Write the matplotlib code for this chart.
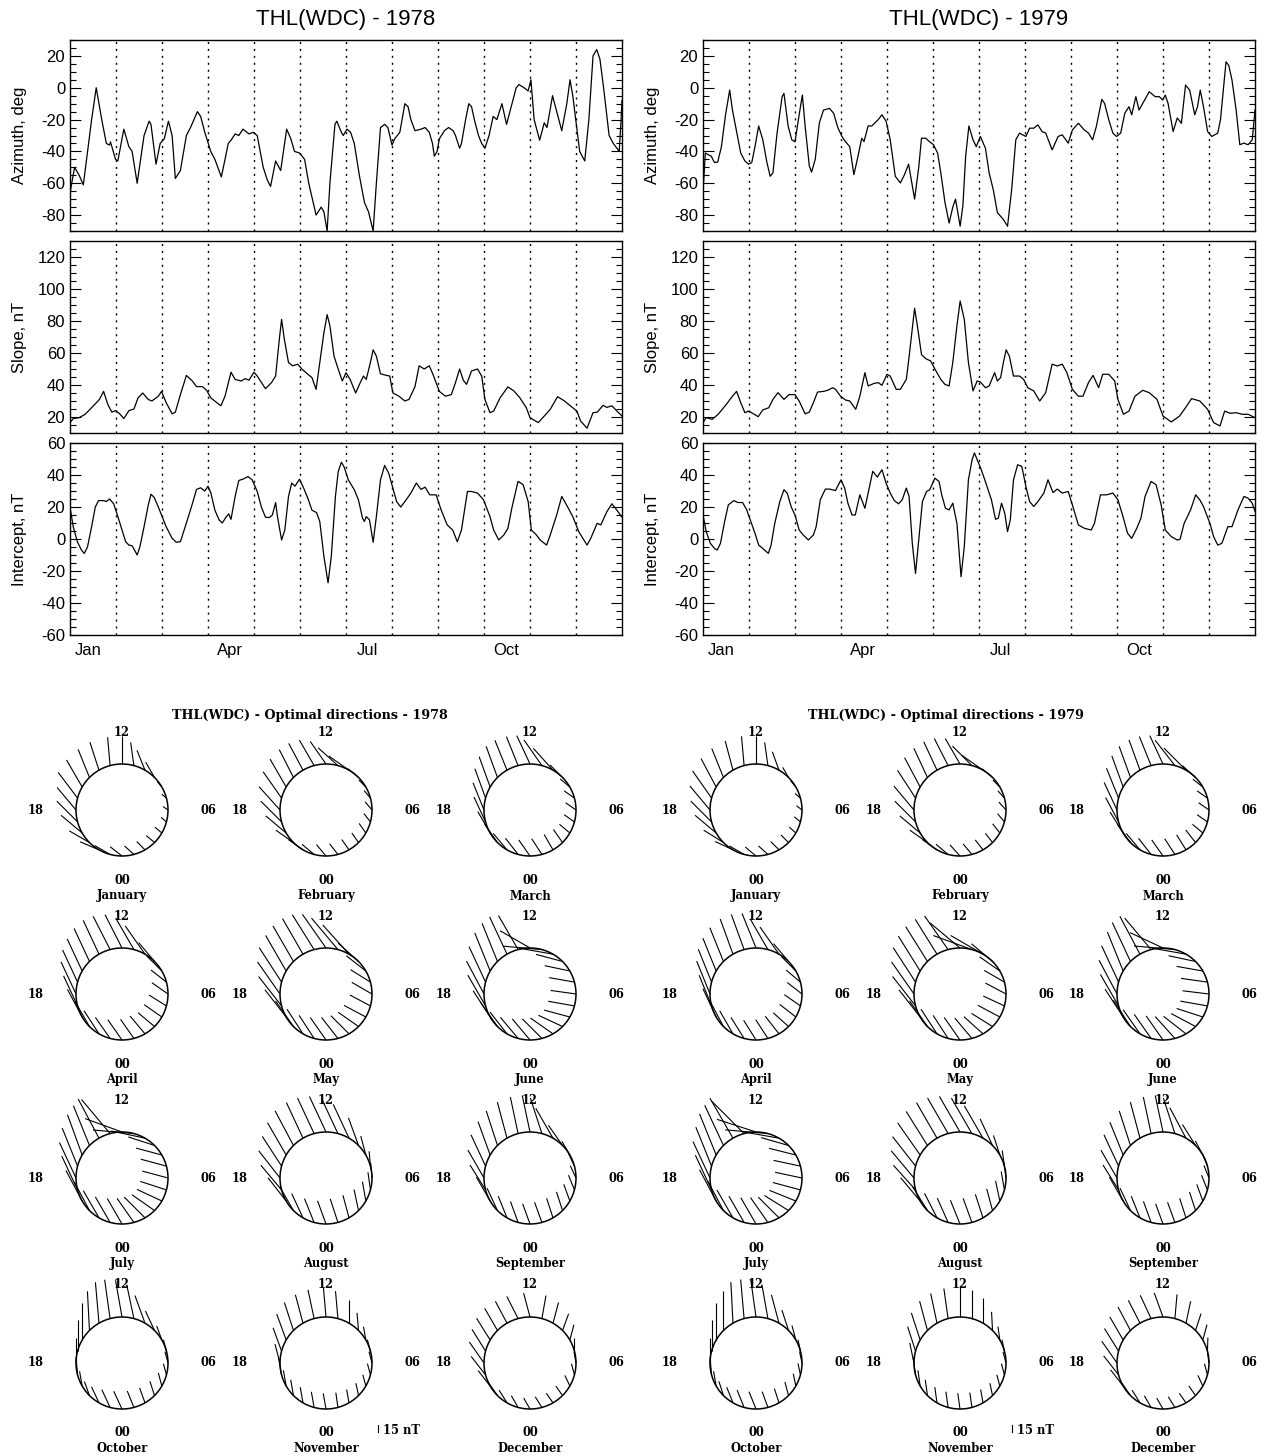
import numpy as np
import matplotlib.pyplot as plt
from matplotlib.patches import Circle
from matplotlib.collections import LineCollection
from matplotlib.ticker import MultipleLocator

plt.rcParams['axes.unicode_minus'] = False

# ---- daily series, (month position, value) ----
az78 = [(0.00,-66),(0.10,-50),(0.20,-55),(0.29,-61),(0.47,-20),(0.57,0),(0.69,-20),(0.79,-35),(0.86,-36),(0.88,-34),
        (0.99,-45),(1.04,-46),(1.17,-26),(1.28,-37),(1.35,-40),(1.46,-60),(1.61,-30),(1.72,-21),(1.76,-23),(1.87,-48),
        (1.96,-35),(2.05,-32),(2.14,-21),(2.22,-30),(2.29,-57),(2.40,-52),(2.53,-30),(2.62,-25),(2.77,-15),(2.84,-18),
        (2.93,-28),(3.06,-40),(3.15,-45),(3.24,-52),(3.29,-56),(3.37,-45),(3.44,-35),(3.50,-33),(3.59,-29),(3.67,-30),
        (3.76,-26),(3.89,-29),(3.98,-28),(4.07,-30),(4.20,-50),(4.29,-58),(4.36,-62),(4.47,-46),(4.58,-52),(4.71,-26),
        (4.80,-32),(4.88,-40),(4.99,-41),(5.10,-45),(5.19,-60),(5.35,-80),(5.46,-75),(5.52,-78),(5.59,-90),(5.65,-60),
        (5.76,-23),(5.80,-21),(5.90,-28),(5.94,-30),(6.02,-26),(6.10,-28),(6.18,-35),(6.29,-55),(6.40,-72),(6.49,-78),
        (6.59,-90),(6.66,-60),(6.75,-25),(6.84,-23),(6.91,-25),(7.00,-36),(7.06,-32),(7.17,-28),(7.28,-10),(7.35,-12),
        (7.41,-20),(7.50,-27),(7.63,-26),(7.72,-25),(7.81,-28),(7.88,-35),(7.92,-43),(7.98,-40),(8.03,-32),(8.14,-27),
        (8.23,-25),(8.33,-27),(8.38,-30),(8.47,-38),(8.51,-35),(8.60,-20),(8.67,-10),(8.73,-12),(8.79,-20),(8.88,-30),
        (8.95,-35),(9.02,-38),(9.11,-30),(9.20,-18),(9.28,-20),(9.39,-10),(9.49,-23),(9.61,-10),(9.70,0),(9.76,2),
        (9.87,0),(9.96,-2),(10.02,5),(10.09,-20),(10.21,-33),(10.31,-22),(10.37,-25),(10.49,-5),(10.58,-15),(10.69,-27),
        (10.80,-10),(10.87,5),(10.93,-5),(11.08,-40),(11.19,-46),(11.28,-20),(11.37,20),(11.45,24),(11.52,18),(11.60,0),
        (11.72,-30),(11.81,-35),(11.89,-38),(11.94,-40),(11.98,-20),(12.00,-8)]

sl78 = [(0.00,16.5),(0.07,19),(0.20,19.6),(0.33,21.7),(0.51,27),(0.64,31),(0.73,36),(0.82,28),(0.91,23),(0.99,24),
        (1.08,22),(1.17,19),(1.28,24),(1.39,25),(1.48,32),(1.58,35),(1.70,31),(1.78,30),(1.92,33),(1.99,36),
        (2.09,29),(2.22,22),(2.29,23),(2.40,34),(2.53,46),(2.66,42.5),(2.75,39),(2.88,39),(2.97,36.7),(3.06,32),
        (3.19,29),(3.28,27),(3.37,33),(3.50,48),(3.59,43.5),(3.72,42.5),(3.81,44),(3.89,43),(4.00,48),(4.07,45.6),
        (4.25,37.7),(4.38,41.5),(4.47,45.6),(4.55,68.5),(4.60,81),(4.66,68.5),(4.75,54),(4.84,52),(4.95,53),(5.04,50),
        (5.13,47.7),(5.26,44.6),(5.35,37.3),(5.43,54),(5.52,72.7),(5.59,84),(5.65,77),(5.74,58),(5.83,50),(5.92,42.5),
        (6.00,47.7),(6.09,43.5),(6.21,35),(6.31,41.5),(6.38,45.6),(6.44,43.5),(6.53,54),(6.59,62),(6.66,58),(6.75,47),
        (6.88,46),(6.95,45.6),(7.02,35),(7.15,33),(7.28,30),(7.37,31),(7.50,39),(7.59,52),(7.70,50),(7.81,52),
        (7.89,46.7),(8.03,36),(8.16,33),(8.29,34),(8.38,41.5),(8.47,50),(8.55,43),(8.62,40.4),(8.73,48.8),(8.86,50),
        (8.95,45.6),(9.02,31),(9.13,22.7),(9.21,23.7),(9.35,32),(9.52,38.8),(9.65,36.3),(9.78,32),(9.92,25.8),(10.00,19.6),
        (10.18,16.5),(10.31,20.6),(10.44,24.8),(10.60,32.7),(10.75,30),(10.88,26.9),(11.02,23.7),(11.10,17.5),(11.24,13),
        (11.37,22.7),(11.46,23),(11.59,27.3),(11.67,26),(11.78,27),(11.89,23.7),(12.00,20.6)]

ic78 = [(0.00,20),(0.07,7.7),(0.16,-1.7),(0.25,-7),(0.31,-9),(0.38,-5),(0.47,7.7),(0.55,20),(0.62,24),(0.73,24),
        (0.79,23.4),(0.86,25),(0.95,22),(1.04,14),(1.13,5.6),(1.21,-1.7),(1.28,-3.8),(1.35,-4.2),(1.46,-10),(1.52,-4.8),
        (1.61,7.7),(1.70,21),(1.76,28),(1.83,26),(1.92,20),(1.99,15),(2.09,7.7),(2.22,0.4),(2.31,-2),(2.40,-1.7),
        (2.53,10),(2.66,22),(2.75,31),(2.84,32),(2.93,30),(3.00,33),(3.06,29),(3.15,18),(3.24,12),(3.31,10),
        (3.39,13.6),(3.45,15.7),(3.50,12.3),(3.59,26.6),(3.67,36.6),(3.76,37.4),(3.87,39),(3.96,37),(4.07,29.7),(4.16,20),
        (4.25,13.6),(4.33,13.4),(4.40,15),(4.47,22.8),(4.51,14),(4.60,-0.6),(4.67,5.6),(4.75,26.6),(4.82,35),(4.89,33),
        (4.99,37.4),(5.08,31.8),(5.17,25.5),(5.26,18),(5.36,16.5),(5.43,10.9),(5.52,-11),(5.61,-27.4),(5.68,-11),(5.77,26.6),
        (5.83,42),(5.90,48),(5.96,45),(6.05,37),(6.18,30.8),(6.27,24.5),(6.36,13),(6.40,10.9),(6.44,14),(6.51,12),
        (6.59,-2),(6.66,14),(6.75,37),(6.84,46),(6.93,41),(7.02,31.8),(7.10,23.4),(7.19,20),(7.28,23.4),(7.41,28.7),
        (7.53,35),(7.63,31),(7.72,32.4),(7.82,27.6),(7.96,27.6),(8.07,18),(8.20,8.8),(8.32,5.6),(8.42,-1.7),(8.51,5.6),
        (8.64,29.7),(8.73,29.7),(8.86,28.7),(8.99,24.5),(9.13,14),(9.21,5.6),(9.32,-0.6),(9.43,2.5),(9.52,6.7),(9.61,20),
        (9.74,36),(9.85,34),(9.96,23.4),(10.03,5.6),(10.14,2.5),(10.22,-0.6),(10.36,-3.8),(10.44,2.5),(10.58,15),(10.69,26.6),
        (10.80,21),(10.93,14),(11.06,4.6),(11.24,-3.8),(11.32,0.4),(11.46,9.8),(11.54,8.8),(11.67,17),(11.78,22),(11.89,18),
        (12.00,13.6)]

az79 = [(0.00,-66),(0.05,-41),(0.11,-42),(0.18,-43),(0.25,-47),(0.32,-46.7),(0.40,-37),(0.49,-17),(0.58,-1.5),(0.64,-14),
        (0.73,-27.5),(0.82,-41),(0.91,-46),(0.99,-48),(1.06,-47),(1.13,-37),(1.21,-24),(1.30,-32.7),(1.39,-47),(1.46,-55.6),
        (1.52,-53.5),(1.61,-28.5),(1.72,-5.6),(1.76,-3.5),(1.85,-24),(1.93,-32.7),(2.00,-34),(2.09,-17),(2.16,-4.6),(2.22,-24),
        (2.31,-49),(2.36,-53),(2.44,-45),(2.53,-22),(2.62,-14),(2.75,-13),(2.84,-16),(2.93,-25),(3.02,-30.6),(3.10,-34),
        (3.19,-37),(3.28,-54.6),(3.37,-43),(3.45,-31.7),(3.50,-33.8),(3.59,-24),(3.67,-24),(3.81,-20),(3.89,-17),(3.98,-21),
        (4.07,-32.7),(4.18,-55.6),(4.29,-59.8),(4.38,-54.6),(4.47,-48),(4.54,-59.8),(4.60,-70),(4.69,-50),(4.75,-31.7),(4.84,-31.7),
        (4.92,-33.8),(5.01,-35.8),(5.10,-41),(5.17,-53.5),(5.26,-72),(5.35,-85),(5.43,-75),(5.49,-70),(5.59,-87),(5.65,-74),
        (5.71,-43),(5.78,-24),(5.87,-32.7),(5.94,-37),(6.03,-30.6),(6.14,-38),(6.22,-53.5),(6.31,-64),(6.40,-78.5),(6.53,-82.7),
        (6.62,-87),(6.71,-64),(6.80,-32.7),(6.88,-28.5),(6.95,-29.6),(7.02,-30.6),(7.10,-25.4),(7.19,-25.4),(7.28,-23.3),(7.37,-27.5),
        (7.45,-28.5),(7.59,-39),(7.72,-30.6),(7.81,-29.6),(7.94,-34.8),(8.03,-26.5),(8.16,-22.3),(8.29,-26.5),(8.38,-28.5),(8.47,-32.7),
        (8.55,-24.4),(8.67,-7.3),(8.73,-9.8),(8.82,-20),(8.91,-28.5),(8.99,-30.6),(9.08,-28.5),(9.17,-16),(9.26,-11.9),(9.32,-17),
        (9.41,-5.6),(9.48,-14),(9.56,-9.8),(9.70,-2.5),(9.83,-5.6),(9.92,-5.6),(9.99,-7.7),(10.05,-4.6),(10.11,-9.8),(10.22,-27.5),
        (10.31,-19),(10.40,-22.3),(10.49,1.7),(10.58,-1.5),(10.69,-17),(10.75,-11.9),(10.81,-1.5),(10.88,-11.9),(10.97,-27.5),(11.06,-30.6),
        (11.19,-28.5),(11.25,-20),(11.37,16.3),(11.43,14),(11.50,4.8),(11.59,-14),(11.67,-35.8),(11.76,-34.8),(11.85,-35.8),(11.94,-32.7),
        (12.00,-14)]

sl79 = [(0.00,16.5),(0.07,19.6),(0.20,18.5),(0.33,21.7),(0.51,28),(0.64,33),(0.73,36),(0.82,29),(0.91,22.7),(0.99,23.7),
        (1.08,22.3),(1.20,20.2),(1.30,24.4),(1.43,25.8),(1.52,31),(1.63,35.2),(1.76,31),(1.87,34),(2.00,34),(2.09,30),
        (2.22,22),(2.31,23),(2.40,29),(2.49,35.6),(2.62,36),(2.71,36.7),(2.82,38.3),(2.88,37.3),(2.99,33),(3.10,30.6),
        (3.19,30),(3.32,24.8),(3.41,33),(3.52,47.7),(3.59,39.4),(3.72,41),(3.81,41.5),(3.89,39.8),(4.00,46.7),(4.07,45.6),
        (4.20,37.3),(4.29,37.3),(4.42,43.5),(4.49,60),(4.60,88),(4.66,77),(4.75,59),(4.84,56.5),(4.95,55),(5.04,50),
        (5.17,43.5),(5.26,40.4),(5.35,39.4),(5.43,54),(5.52,77),(5.59,92.5),(5.68,81),(5.77,54),(5.87,36.3),(5.96,42.5),
        (6.03,41.9),(6.14,38.3),(6.22,39.4),(6.34,47.7),(6.40,42.5),(6.47,44.6),(6.53,54),(6.59,62),(6.66,58),(6.75,45.6),
        (6.88,45.6),(6.97,43.5),(7.06,38.3),(7.19,36.3),(7.32,30),(7.45,35.2),(7.59,53),(7.70,51.9),(7.81,53),(7.91,47.7),
        (8.03,37.3),(8.16,33),(8.26,33),(8.38,41.5),(8.48,46),(8.60,38.3),(8.69,46.7),(8.82,46.7),(8.95,42.5),(9.02,31),
        (9.14,21.7),(9.26,23.7),(9.39,33),(9.56,36.7),(9.70,35.2),(9.87,31),(10.00,20.6),(10.18,16.9),(10.36,20.6),(10.49,25.8),
        (10.62,31.5),(10.80,30),(10.97,24.8),(11.10,16.5),(11.24,14.4),(11.34,23.7),(11.46,22.3),(11.59,22.7),(11.72,21.7),(11.85,21.7),
        (12.00,19.6)]

ic79 = [(0.00,15),(0.07,4.6),(0.16,-2.7),(0.25,-5.9),(0.31,-6.9),(0.38,-2.7),(0.47,10.9),(0.55,21.3),(0.67,24),(0.76,22.8),
        (0.86,22.8),(0.95,18.2),(1.04,10.9),(1.13,3.6),(1.21,-3.8),(1.30,-5.9),(1.42,-9),(1.48,-3.8),(1.56,9.8),(1.67,23.4),
        (1.76,30.8),(1.83,28.7),(1.92,19.9),(2.00,15),(2.09,5.6),(2.18,2.5),(2.29,-0.6),(2.40,2.5),(2.46,7.7),(2.55,24.5),
        (2.66,31.2),(2.75,31.2),(2.88,30.3),(3.00,37),(3.08,31.8),(3.15,22.4),(3.24,15),(3.31,15),(3.41,27.6),(3.52,19.2),
        (3.59,28.7),(3.69,42.3),(3.79,38.7),(3.89,43.3),(3.98,34.9),(4.07,28.7),(4.16,24),(4.25,22),(4.33,24.5),(4.42,31.8),
        (4.48,26.6),(4.55,-2.7),(4.62,-21.5),(4.69,-0.6),(4.77,23.4),(4.86,29.7),(4.93,30.8),(5.04,38),(5.13,36),(5.19,27.6),
        (5.27,19.2),(5.35,18.2),(5.43,22.4),(5.52,9.8),(5.61,-23.6),(5.68,-4.8),(5.77,37),(5.85,49.6),(5.90,53.8),(5.96,49.6),
        (6.05,43.3),(6.15,34.9),(6.27,24.5),(6.36,12.3),(6.42,13),(6.49,22.4),(6.56,16.1),(6.62,4.6),(6.68,11.9),(6.75,37),
        (6.84,46.4),(6.93,45.4),(7.02,32.8),(7.10,23.4),(7.19,20.3),(7.28,23.4),(7.41,28.7),(7.50,37),(7.61,29),(7.70,31.2),
        (7.81,28.7),(7.94,29.7),(8.03,21.3),(8.16,8.8),(8.29,6.7),(8.44,5.6),(8.51,9.8),(8.64,27.6),(8.77,27.6),(8.91,28.7),
        (9.02,24.5),(9.13,14),(9.23,3.6),(9.32,0.4),(9.43,6.7),(9.52,13),(9.61,26.6),(9.74,36),(9.85,33.9),(9.96,21.3),
        (10.05,5.6),(10.18,1.5),(10.31,-0.6),(10.37,-0.2),(10.46,9.8),(10.60,18.2),(10.71,27.6),(10.80,24.5),(10.88,20.3),(11.02,9.8),
        (11.10,1.5),(11.19,-3.8),(11.28,-2.7),(11.41,7.7),(11.50,7.7),(11.63,18.2),(11.76,26.6),(11.85,25.5),(11.94,22.4),(12.00,17.2)]

month_ticks = ['Jan', 'Apr', 'Jul', 'Oct']
month_names = ['January', 'February', 'March', 'April', 'May', 'June',
               'July', 'August', 'September', 'October', 'November', 'December']

# ---- optimal directions: per month, 24 hourly values (00..23 LT) ----
# tilt of the vector from north, deg (negative = towards 18 LT side)
dir78 = [
    [-52,-48,-45,-50,-50,-50,-55,-50,-40,-30,-22,-8,0,-5,-18,-22,-30,-37,-40,-45,-50,-60,-67,-60],
    [-40,-38,-35,-35,-35,-38,-40,-40,-45,-50,-55,-48,-35,-30,-28,-27,-30,-35,-42,-45,-50,-55,-55,-50],
    [-35,-33,-30,-35,-50,-55,-55,-55,-50,-45,-42,-35,-25,-22,-22,-20,-20,-20,-22,-25,-30,-35,-40,-38],
    [-35,-35,-40,-50,-55,-58,-55,-52,-45,-40,-35,-30,-27,-27,-25,-25,-25,-25,-25,-25,-28,-30,-33,-35],
    [-35,-38,-45,-55,-62,-62,-60,-58,-52,-48,-42,-40,-35,-32,-30,-30,-30,-33,-35,-38,-38,-35,-33,-33],
    [-40,-45,-55,-65,-75,-80,-82,-80,-78,-75,-80,-85,-60,-30,-25,-22,-22,-25,-28,-30,-33,-35,-38,-40],
    [-30,-35,-45,-55,-65,-72,-75,-75,-75,-72,-78,-85,-70,-40,-28,-22,-20,-22,-25,-25,-28,-28,-30,-30],
    [-20,-18,-15,-12,-10,-8,-5,-5,-15,-20,-25,-25,-25,-25,-25,-28,-30,-33,-38,-40,-38,-30,-25,-22],
    [-20,-20,-18,-18,-20,-22,-25,-25,-30,-35,-30,-18,-12,-12,-15,-18,-20,-25,-30,-32,-30,-25,-22,-20],
    [-25,-22,-20,-18,-15,-15,-15,-15,-20,-25,-20,-12,-10,-8,-5,-3,0,0,0,-5,-10,-20,-25,-25],
    [-10,-8,-10,-12,-15,-15,-15,-15,-10,-5,0,-5,-5,-12,-15,-18,-20,-20,-15,-10,-10,-10,-10,-10],
    [-30,-32,-35,-35,-25,-15,-10,0,15,20,15,10,-15,-27,-28,-30,-32,-32,-35,-38,-38,-35,-32,-30],
]
# vector length, nT
len78 = [
    [32,27,25,23,19,15,13,13,15,38,46,50,59,61,63,65,67,69,63,63,59,50,44,38],
    [32,29,27,25,25,23,23,21,21,29,53,57,59,63,65,67,69,69,67,63,57,46,38,34],
    [42,40,38,34,29,27,27,27,27,38,63,67,67,67,69,71,69,67,63,59,53,48,46,44],
    [53,50,50,46,46,44,42,42,46,53,74,78,80,80,80,78,76,76,76,71,67,63,59,55],
    [59,57,55,53,53,50,50,50,53,59,84,88,88,88,88,88,88,88,84,80,74,67,63,59],
    [59,59,59,57,57,57,55,55,55,59,74,84,74,84,88,88,88,84,80,76,67,63,59,59],
    [63,63,63,59,59,59,57,57,57,59,74,88,84,95,95,92,92,88,84,80,74,69,67,63],
    [53,53,50,46,42,38,32,32,42,63,80,84,84,84,84,84,80,76,74,69,63,59,57,55],
    [46,46,44,42,38,34,29,29,34,53,74,80,80,80,80,78,76,74,69,63,59,53,50,48],
    [42,38,34,32,29,25,25,25,32,46,63,74,80,84,88,84,80,67,53,38,32,32,38,42],
    [34,32,29,27,25,25,25,25,29,38,50,59,63,63,63,63,59,53,42,38,34,34,34,34],
    [27,27,25,25,25,25,25,29,34,38,46,50,53,53,53,55,55,55,55,50,42,36,32,29],
]
dir79 = [
    [-50,-48,-45,-45,-48,-50,-52,-50,-40,-30,-20,-8,0,-5,-15,-22,-28,-35,-40,-45,-50,-58,-65,-60],
    [-42,-40,-38,-38,-38,-40,-42,-42,-45,-50,-55,-45,-30,-27,-25,-25,-28,-33,-40,-45,-50,-55,-55,-50],
    [-35,-33,-32,-38,-50,-55,-55,-55,-52,-48,-45,-38,-25,-22,-20,-20,-20,-22,-25,-28,-32,-36,-40,-38],
    [-32,-33,-38,-48,-52,-55,-52,-50,-45,-40,-35,-30,-22,-20,-20,-22,-22,-22,-22,-22,-25,-28,-30,-32],
    [-35,-40,-48,-58,-62,-65,-62,-60,-55,-50,-60,-70,-50,-35,-32,-32,-32,-33,-35,-38,-38,-35,-33,-33],
    [-35,-42,-52,-62,-72,-80,-83,-82,-80,-78,-80,-85,-65,-40,-28,-25,-22,-25,-28,-30,-33,-33,-35,-35],
    [-30,-35,-45,-58,-68,-75,-78,-78,-76,-74,-80,-85,-72,-45,-30,-25,-22,-22,-25,-25,-28,-28,-30,-30],
    [-22,-20,-18,-15,-12,-10,-8,-8,-18,-25,-30,-30,-30,-30,-30,-32,-35,-38,-40,-42,-40,-32,-27,-24],
    [-20,-20,-18,-18,-20,-22,-22,-22,-28,-32,-28,-18,-12,-12,-15,-18,-22,-25,-30,-32,-30,-25,-22,-20],
    [-22,-20,-18,-15,-12,-12,-12,-12,-15,-18,-15,-10,-8,-5,-3,0,0,0,0,-5,-10,-18,-22,-22],
    [-8,-8,-10,-12,-15,-15,-15,-12,-8,-3,0,0,0,-8,-12,-15,-18,-18,-12,-8,-8,-8,-8,-8],
    [-30,-32,-35,-35,-25,-15,-8,2,15,18,12,5,-20,-25,-27,-28,-30,-32,-35,-38,-38,-35,-32,-30],
]
len79 = [
    [30,27,25,23,19,17,15,15,17,25,42,50,59,63,65,67,69,71,67,63,59,50,42,36],
    [32,29,27,25,25,23,23,21,21,29,55,59,63,65,67,69,71,71,67,63,57,46,38,34],
    [42,40,38,34,29,27,27,27,27,38,67,69,67,67,69,71,71,69,65,59,53,48,46,44],
    [50,48,48,44,44,42,40,40,44,50,71,76,80,80,80,78,76,76,76,71,67,63,57,53],
    [59,57,55,53,53,50,50,50,53,59,80,88,84,88,88,88,88,88,84,80,74,67,63,59],
    [63,63,61,59,59,59,57,57,57,59,74,88,78,88,92,92,90,86,82,78,71,67,63,63],
    [65,65,63,61,61,61,59,59,59,61,76,92,88,99,99,95,95,90,86,82,76,71,69,65],
    [55,55,53,48,44,40,34,34,44,63,80,88,88,88,88,86,84,80,76,71,65,61,59,57],
    [46,46,44,42,38,34,29,29,34,53,74,80,80,80,80,78,76,74,69,63,59,53,50,48],
    [40,36,32,30,27,25,25,25,32,46,63,74,80,84,88,84,80,67,53,38,32,32,36,40],
    [34,32,29,27,25,25,25,25,29,40,53,61,65,65,65,65,61,55,44,38,34,34,34,34],
    [27,27,25,25,25,25,25,29,34,38,48,52,55,55,55,57,57,57,57,52,44,36,32,29],
]
scale_nT = 15

W, H = 1266, 1456
fig = plt.figure(figsize=(W / 100, H / 100), dpi=100)
sans = 'Liberation Sans'
serif = 'DejaVu Serif'


def box(x0, y0, x1, y1):
    return [x0 / W, 1 - y1 / H, (x1 - x0) / W, (y1 - y0) / H]


# ---- dial sketch layer, in pixel coordinates ----
bg = fig.add_axes([0, 0, 1, 1])
bg.set_xlim(0, W)
bg.set_ylim(H, 0)
bg.axis('off')

R = 46.0
px_per_nT = 7.0 / scale_nT
col_x = {1978: [122, 326, 530], 1979: [756, 960, 1163]}
row_y = [810, 994, 1178, 1363]
titles_x = {1978: 310, 1979: 946}
scale_x = {1978: 378, 1979: 1012}

for year, dirs, lens in [(1978, dir78, len78), (1979, dir79, len79)]:
    bg.text(titles_x[year], 716, 'THL(WDC) - Optimal directions - %d' % year,
            family=serif, weight='bold', fontsize=9.2, ha='center', va='center')
    for m in range(12):
        cx = col_x[year][m % 3]
        cy = row_y[m // 3]
        bg.add_patch(Circle((cx, cy), R, fill=False, lw=1.1, color='black'))
        segs = []
        for h in range(24):
            phi = np.deg2rad(90 + (h - 12) * 15)
            x0 = cx + R * np.cos(phi)
            y0 = cy - R * np.sin(phi)
            t = np.deg2rad(dirs[m][h])
            L = lens[m][h] * px_per_nT
            segs.append([(x0, y0), (x0 + L * np.sin(t), y0 - L * np.cos(t))])
        bg.add_collection(LineCollection(segs, colors='black', linewidths=0.8))
        kw = dict(family=serif, weight='bold', fontsize=8.3, ha='center', va='center')
        bg.text(cx, cy - 78, '12', **kw)
        bg.text(cx, cy + 70, '00', **kw)
        bg.text(cx - 86, cy, '18', **kw)
        bg.text(cx + 86, cy, '06', **kw)
        bg.text(cx, cy + 86, month_names[m], **kw)
    sx = scale_x[year]
    bg.plot([sx, sx], [1432 - scale_nT * px_per_nT, 1432], color='black', lw=0.8)
    bg.text(sx + 5, 1430, '15 nT', family=serif, weight='bold', fontsize=8.3,
            ha='left', va='center')

# ---- time series panels ----
panel_rows = [(40, 231), (241, 433), (443, 635)]
ylims = [(-90, 30), (10, 130), (-60, 60)]
ylabels = ['Azimuth, deg', 'Slope, nT', 'Intercept, nT']
col_edges = {1978: (70, 622), 1979: (703, 1255)}

for year, series in [(1978, [az78, sl78, ic78]), (1979, [az79, sl79, ic79])]:
    x0, x1 = col_edges[year]
    fig.text((x0 + x1) / 2 / W, 1 - 20 / H, 'THL(WDC) - %d' % year,
             family=sans, fontsize=16, ha='center', va='center')
    for i, (y0, y1) in enumerate(panel_rows):
        ax = fig.add_axes(box(x0, y0, x1, y1))
        t, v = zip(*series[i])
        ax.plot(t, v, color='black', lw=0.9)
        for mb in range(1, 12):
            ax.axvline(mb, color='black', lw=1.0, ls=(0, (1.5, 3.5)))
        ax.set_xlim(0, 12)
        ax.set_ylim(*ylims[i])
        ax.yaxis.set_major_locator(MultipleLocator(20))
        ax.yaxis.set_minor_locator(MultipleLocator(5))
        ax.tick_params(axis='y', which='both', direction='in', left=True, right=True,
                       labelsize=12, width=0.8)
        ax.tick_params(axis='y', which='major', length=8)
        ax.tick_params(axis='y', which='minor', length=4)
        for lab in ax.get_yticklabels():
            lab.set_family(sans)
        ax.set_ylabel(ylabels[i], family=sans, fontsize=12)
        ax.yaxis.set_label_coords(-0.078, 0.5)
        if i == 2:
            ax.set_xticks([0.4, 3.47, 6.46, 9.48])
            ax.set_xticklabels(month_ticks, family=sans, fontsize=12)
            ax.tick_params(axis='x', length=0, pad=6)
        else:
            ax.set_xticks([])
        for sp in ax.spines.values():
            sp.set_linewidth(1.0)

fig.savefig('out.png', dpi=100)
